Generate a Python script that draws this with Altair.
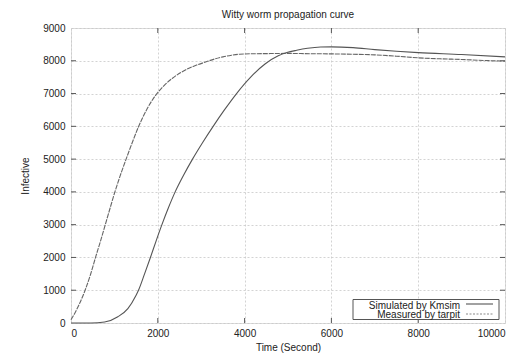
import altair as alt
import pandas as pd

# Measured by tarpit (time in seconds, infective hosts)
meas_t = [0, 100, 200, 325, 450, 565, 680, 790, 900, 1000, 1130, 1270, 1410, 1560, 1740,
          1940, 2150, 2330, 2530, 2730, 2920, 3115, 3300, 3500, 3700, 3880, 4200, 4600,
          5000, 5500, 6000, 6500, 7000, 7500, 8000, 8500, 9000, 9500, 10000]
meas_v = [100, 330, 600, 1000, 1480, 2000, 2500, 3000, 3500, 3950, 4480, 5000, 5500, 6000,
          6500, 6930, 7250, 7460, 7640, 7780, 7880, 7970, 8050, 8120, 8170, 8200, 8215,
          8220, 8225, 8215, 8210, 8200, 8180, 8140, 8090, 8060, 8040, 8010, 7990]

# Simulated by Kmsim
sim_t = [0, 460, 775, 1080, 1310, 1500, 1555, 1695, 1830, 1960, 2095, 2240, 2400, 2590,
         2800, 3030, 3275, 3535, 3815, 4140, 4470, 4775, 4975, 5200, 5450, 5750, 6000,
         6500, 7000, 7500, 8000, 9000, 10000]
sim_v = [0, 0, 30, 190, 440, 850, 1000, 1500, 2000, 2500, 3000, 3500, 4000, 4500,
         5000, 5500, 6000, 6500, 7000, 7500, 7900, 8150, 8250, 8320, 8380, 8420, 8425,
         8400, 8340, 8290, 8250, 8190, 8120]

x_ticks = [0, 2000, 4000, 6000, 8000, 10000]
y_ticks = [0, 1000, 2000, 3000, 4000, 5000, 6000, 7000, 8000, 9000]
x_inner = [2000, 4000, 6000, 8000]
y_inner = [1000, 2000, 3000, 4000, 5000, 6000, 7000, 8000]
title_text = "Witty worm propagation curve"
legend_labels = ["Simulated by Kmsim", "Measured by tarpit"]

FONT = "Liberation Sans"
TXT = "#222222"
LINE = "#555555"
W, H = 434, 295

sim_df = pd.DataFrame({"t": sim_t, "v": sim_v})
meas_df = pd.DataFrame({"t": meas_t, "v": meas_v})
xt_df = pd.DataFrame({"t": x_inner})
yt_df = pd.DataFrame({"v": y_inner})
one = pd.DataFrame({"k": [0]})

xs = alt.Scale(domain=[0, 10000], nice=False)
ys = alt.Scale(domain=[0, 9000], nice=False)

x_axis = alt.Axis(values=x_ticks, format="d", grid=True, gridColor="#c8c8c8",
                  gridDash=[2, 2], gridWidth=0.8, ticks=False, domain=False,
                  labelFont=FONT, labelFontSize=10, labelColor=TXT, labelPadding=5,
                  title="Time (Second)", titleFont=FONT, titleFontSize=10,
                  titleFontWeight="normal", titleColor=TXT, titleY=27,
                  titleBaseline="alphabetic")
y_axis = alt.Axis(values=y_ticks, format="d", grid=True, gridColor="#c8c8c8",
                  gridDash=[2, 2], gridWidth=0.8, ticks=False, domain=False,
                  labelFont=FONT, labelFontSize=10, labelColor=TXT, labelPadding=6,
                  title="Infective", titleFont=FONT, titleFontSize=10,
                  titleFontWeight="normal", titleColor=TXT, titleX=-43, titleY=H / 2,
                  titleAngle=-90, titleBaseline="alphabetic", titleAlign="center")

X = alt.X("t:Q", scale=xs, axis=x_axis, title="Time (Second)")
Y = alt.Y("v:Q", scale=ys, axis=y_axis, title="Infective")

sim_line = alt.Chart(sim_df).mark_line(color=LINE, strokeWidth=1.1,
                                       interpolate="monotone").encode(x=X, y=Y)
meas_line = alt.Chart(meas_df).mark_line(color="#666666", strokeWidth=1.1,
                                         strokeDash=[5, 1],
                                         interpolate="monotone").encode(x=X, y=Y)

tick_top = alt.Chart(xt_df).mark_rule(color=LINE, strokeWidth=1).encode(
    x=X, y=alt.value(0), y2=alt.value(5))
tick_bot = alt.Chart(xt_df).mark_rule(color=LINE, strokeWidth=1).encode(
    x=X, y=alt.value(H), y2=alt.value(H - 5))
tick_left = alt.Chart(yt_df).mark_rule(color=LINE, strokeWidth=1).encode(
    y=Y, x=alt.value(0), x2=alt.value(5))
tick_right = alt.Chart(yt_df).mark_rule(color=LINE, strokeWidth=1).encode(
    y=Y, x=alt.value(W), x2=alt.value(W - 5))

title_mark = alt.Chart(one).mark_text(align="center", baseline="alphabetic", font=FONT,
                                      fontSize=10, color=TXT).encode(
    x=alt.value(W / 2), y=alt.value(-10), text=alt.value(title_text))

leg_box = alt.Chart(one).mark_rect(fill="white", stroke=LINE, strokeWidth=1).encode(
    x=alt.value(282), x2=alt.value(428), y=alt.value(271.5), y2=alt.value(291.5))
leg_t1 = alt.Chart(one).mark_text(align="right", baseline="alphabetic", font=FONT,
                                  fontSize=10, color=TXT).encode(
    x=alt.value(389), y=alt.value(280.5), text=alt.value(legend_labels[0]))
leg_t2 = alt.Chart(one).mark_text(align="right", baseline="alphabetic", font=FONT,
                                  fontSize=10, color=TXT).encode(
    x=alt.value(389), y=alt.value(290), text=alt.value(legend_labels[1]))
leg_l1 = alt.Chart(one).mark_rule(color=LINE, strokeWidth=1.1).encode(
    x=alt.value(395), x2=alt.value(422), y=alt.value(276))
leg_l2 = alt.Chart(one).mark_rule(color="#8a8a8a", strokeWidth=1.1,
                                  strokeDash=[2, 1.5]).encode(
    x=alt.value(395), x2=alt.value(422), y=alt.value(286))

chart = alt.layer(
    tick_top, tick_bot, tick_left, tick_right,
    meas_line, sim_line,
    leg_box, leg_t1, leg_t2, leg_l1, leg_l2,
    title_mark,
).properties(
    width=W, height=H,
    autosize=alt.AutoSizeParams(type="none"),
    padding={"left": 63, "top": 20, "right": 11, "bottom": 30},
).configure_view(stroke=LINE, strokeWidth=1.2).configure(background="white")

chart.save("out.html", embed_options={"renderer": "svg", "actions": False})
